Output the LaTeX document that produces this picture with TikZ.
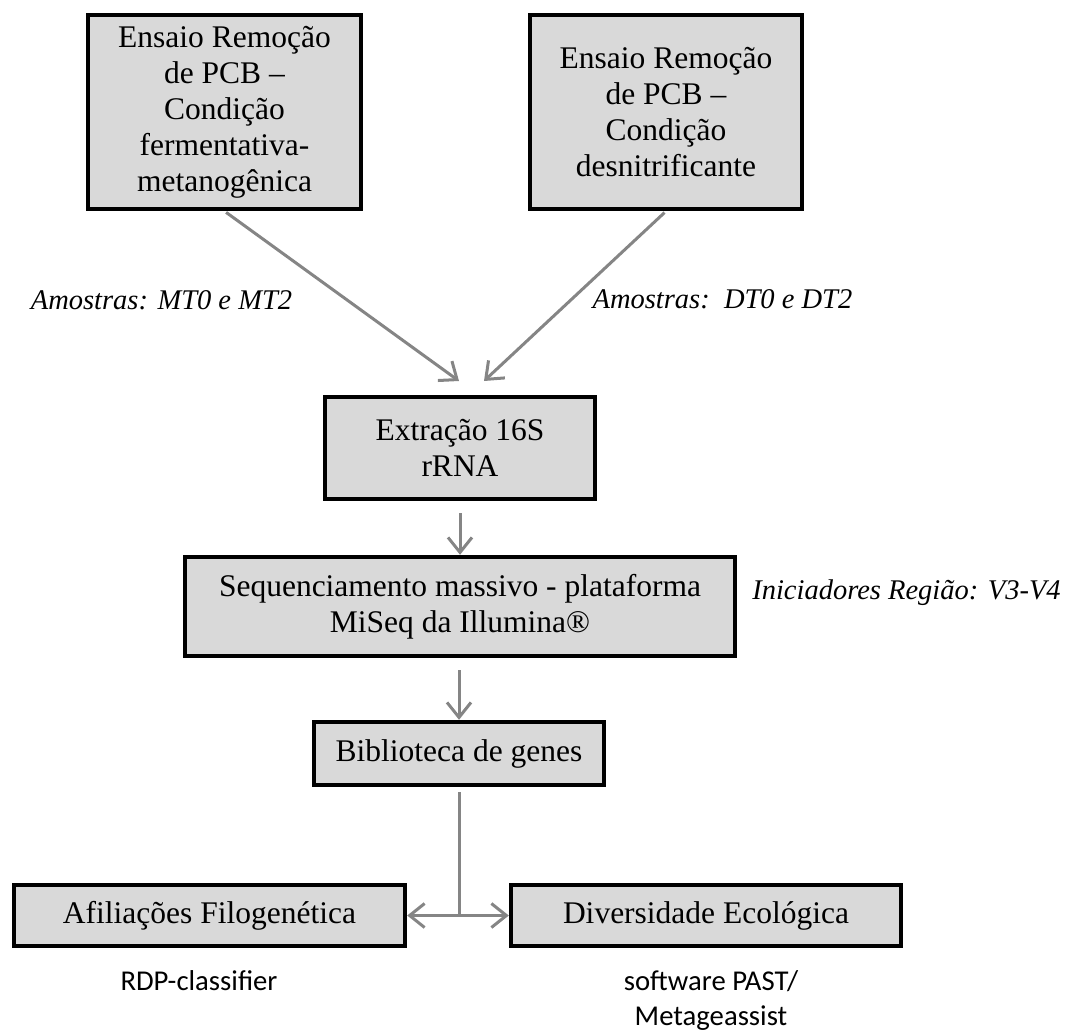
\documentclass[tikz,border=0pt]{standalone}
\usepackage{fontspec}
\setmainfont{Liberation Serif}
\newfontfamily\calibrifont{Carlito}
\usepackage{tikz}
\usetikzlibrary{arrows.meta}
\usetikzlibrary{calc}
\usetikzlibrary{math}

\definecolor{boxgray}{HTML}{D9D9D9}
\definecolor{linegray}{HTML}{858585}

\tikzset{
  stage/.style={draw=black, line width=2.2pt, fill=boxgray, align=center, inner sep=0pt,
    font=\fontsize{15.75}{18}\selectfont},
  flow/.style={draw=linegray, line width=1.5pt, -{Straight Barb[length=7.5pt,width=12pt]}},
  sample/.style={inner sep=0pt, font=\fontsize{14.25}{17}\selectfont\itshape},
  tool/.style={inner sep=0pt, align=center, font=\fontsize{14.35}{17.5}\selectfont\calibrifont},
}

\begin{document}
\begin{tikzpicture}[x=0.5pt, y=-0.5pt]
\tikzmath{
\gap=6;
}
\useasboundingbox (0,0) rectangle (1072,1034);

% ensaios
\node[stage, minimum width=136.5pt, minimum height=97pt] (mt) at (224.5,112)
  {Ensaio Remoção\\de PCB –\\Condição\\fermentativa-\\metanogênica};
\node[stage, minimum width=136pt, minimum height=97pt] (dn) at (666,112)
  {Ensaio Remoção\\de PCB –\\Condição\\desnitrificante};

% etapas
\node[stage, minimum width=135pt, minimum height=51pt] (ext) at (460,448) {Extração 16S\\rRNA};
\node[stage, minimum width=275pt, minimum height=49.5pt] (seq) at (460,606.5)
  {Sequenciamento massivo - plataforma\\MiSeq da Illumina®};
\node[stage, minimum width=145pt, minimum height=31.5pt] (bib) at (459,753.5) {Biblioteca de genes};
\node[stage, minimum width=195.5pt, minimum height=30.5pt] (af) at (209.5,915.5) {Afiliações Filogenética};
\node[stage, minimum width=195pt, minimum height=30.5pt] (div) at (706,915.5) {Diversidade Ecológica};

% textos soltos
\node[sample] (mtlabel) at (161.5,300) {Amostras: MT0 e MT2};
\node[sample] (dnlabel) at (722.5,299) {Amostras:\ \ DT0 e DT2};
\node[sample] (primers) at (906.5,593) {Iniciadores Região: V3-V4};
\node[tool] (rdp) at (199,981) {RDP-classifier};
\node[tool] (past) at (711,1000) {software PAST/\\Metageassist};

% setas
\coordinate (mtend) at (459,381);
\coordinate (dnend) at (484,381);
\coordinate (split) at (bib.south |- af.east);
\draw[flow, shorten <=1pt] (mt.south) -- (mtend);
\draw[flow, shorten <=1pt] (dn.south) -- (dnend);
\draw[flow, shorten <=\gap pt] (ext.south) -- (ext.south |- seq.north);
\draw[flow, shorten <=\gap pt] (seq.south -| bib.north) -- (bib.north);
\draw[draw=linegray, line width=1.5pt, shorten <=2.5pt] (bib.south) -- (split);
\draw[flow] (split) -- (af.east);
\draw[flow] (split) -- (div.west);

\end{tikzpicture}
\end{document}
